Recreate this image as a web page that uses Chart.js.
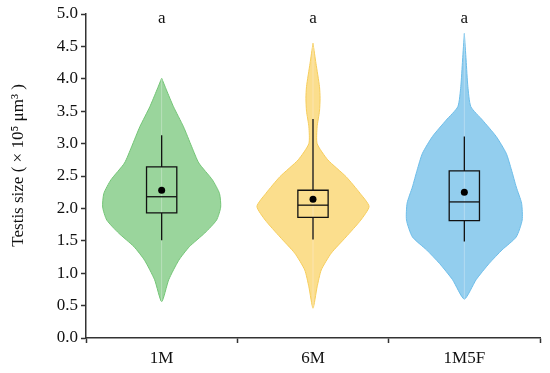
<!DOCTYPE html>
<html>
<head>
<meta charset="utf-8">
<script src="https://cdn.jsdelivr.net/npm/chart.js@4.4.1/dist/chart.umd.min.js"></script>
<style>
  html, body { margin: 0; padding: 0; background: #fff; }
  #wrap { width: 550px; height: 373px; }
</style>
</head>
<body>
<div id="wrap"><canvas id="violinChart"></canvas></div>
<script>
// groups and significance letters
const groups = ['1M', '6M', '1M5F'];
const letters = ['a', 'a', 'a'];

// violin outlines: testis size (x 10^5 um^3) and relative density
const size1M = [4.01, 3.83, 3.57, 3.26, 2.95, 2.70, 2.44, 2.23, 2.02, 1.82, 1.62, 1.41, 1.20, 0.90, 0.56];
const dens1M = [0, 0.08, 0.20, 0.37, 0.51, 0.63, 0.86, 0.98, 1.0, 0.93, 0.73, 0.47, 0.29, 0.12, 0];

const size6M = [4.55, 4.24, 3.88, 3.70, 3.50, 3.26, 3.00, 2.75, 2.49, 2.23, 2.03, 1.82, 1.56, 1.31, 1.05, 0.79, 0.46];
const dens6M = [0, 0.05, 0.11, 0.12, 0.11, 0.07, 0.07, 0.25, 0.56, 0.80, 0.95, 0.81, 0.56, 0.31, 0.14, 0.07, 0];

const size1M5F = [4.70, 4.29, 3.88, 3.57, 3.36, 3.11, 2.85, 2.59, 2.33, 2.08, 1.82, 1.56, 1.36, 1.15, 0.90, 0.60];
const dens1M5F = [0, 0.03, 0.06, 0.11, 0.31, 0.54, 0.71, 0.80, 0.88, 0.97, 0.98, 0.88, 0.64, 0.42, 0.20, 0];

// box plot summaries per group
const whiskerHigh = [3.13, 3.38, 3.11];
const q3 = [2.64, 2.28, 2.58];
const median = [2.18, 2.05, 2.10];
const q1 = [1.93, 1.86, 1.81];
const whiskerLow = [1.51, 1.52, 1.49];
const mean = [2.28, 2.14, 2.25];

const fills = ['rgb(154, 213, 156)', 'rgb(251, 222, 141)', 'rgb(147, 206, 238)'];
const edges = ['#74c577', '#f6cd5c', '#6dbde9'];
const maxHalf = 0.39;   // widest violin half width, in category units
const boxHalf = 0.1;

function violinPoints(i, ys, ds) {
    const right = ys.map((y, k) => ({x: i + ds[k] * maxHalf, y: y}));
    const left = ys.map((y, k) => ({x: i - ds[k] * maxHalf, y: y})).reverse();
    return right.concat(left.slice(1));
}

function boxPath(i) {
    return [
        {x: i, y: whiskerHigh[i]}, {x: i, y: q3[i]},
        {x: i - boxHalf, y: q3[i]}, {x: i - boxHalf, y: q1[i]},
        {x: i, y: q1[i]}, {x: i, y: whiskerLow[i]}, {x: i, y: q1[i]},
        {x: i + boxHalf, y: q1[i]}, {x: i + boxHalf, y: q3[i]}, {x: i, y: q3[i]}
    ];
}

const sizes = [size1M, size6M, size1M5F];
const dens = [dens1M, dens6M, dens1M5F];

const datasets = [];
groups.forEach((g, i) => {
    // mean dot
    datasets.push({
        data: [{x: i, y: mean[i]}],
        pointRadius: 3.5, pointBackgroundColor: '#000', pointBorderWidth: 0,
        showLine: false, order: 0
    });
    // box + whiskers
    datasets.push({
        data: boxPath(i), showLine: true, tension: 0,
        borderColor: '#111', borderWidth: 1.3, pointRadius: 0, fill: false, order: 1
    });
    datasets.push({
        data: [{x: i - boxHalf, y: median[i]}, {x: i + boxHalf, y: median[i]}],
        showLine: true, borderColor: '#111', borderWidth: 1.3, pointRadius: 0, fill: false, order: 1
    });
    // faint centre line
    datasets.push({
        data: [{x: i, y: sizes[i][0]}, {x: i, y: sizes[i][sizes[i].length - 1]}],
        showLine: true, borderColor: 'rgba(255,255,255,0.12)', borderWidth: 1, pointRadius: 0, order: 2
    });
    // violin
    datasets.push({
        data: violinPoints(i, sizes[i], dens[i]),
        showLine: true, tension: 0.2, fill: 'shape',
        backgroundColor: fills[i], borderColor: edges[i], borderWidth: 1,
        pointRadius: 0, order: 3
    });
});

// letters above each violin
const letterPlugin = {
    id: 'letters',
    afterDatasetsDraw(chart) {
        const {ctx, scales} = chart;
        ctx.save();
        ctx.font = '17px "Liberation Serif", serif';
        ctx.fillStyle = '#111';
        ctx.textAlign = 'center';
        ctx.textBaseline = 'alphabetic';
        letters.forEach((t, i) => {
            ctx.fillText(t, scales.x.getPixelForValue(i), scales.y.getPixelForValue(4.86));
        });
        ctx.restore();
    }
};

Chart.defaults.font.family = '"Liberation Serif", "Times New Roman", serif';
Chart.defaults.font.size = 17;
Chart.defaults.color = '#111';

const ctx = document.getElementById('violinChart').getContext('2d');
const violinChart = new Chart(ctx, {
    type: 'scatter',
    data: {datasets: datasets},
    options: {
        responsive: true,
        maintainAspectRatio: false,
        animation: false,
        layout: {padding: {left: 8, right: 10, top: 14, bottom: 0}},
        plugins: {legend: {display: false}, tooltip: {enabled: false}},
        scales: {
            x: {
                type: 'linear', min: -0.5, max: 2.5,
                afterBuildTicks: s => { s.ticks = [-0.5, 0, 0.5, 1, 1.5, 2, 2.5].map(v => ({value: v})); },
                afterFit: s => { s.height = 35; },
                ticks: {
                    autoSkip: false, maxRotation: 0, padding: 5,
                    callback: v => Number.isInteger(v) ? groups[v] : ''
                },
                grid: {
                    drawOnChartArea: false, drawTicks: true, tickLength: 5, tickWidth: 1.5,
                    tickColor: c => (c.tick && Number.isInteger(c.tick.value)) ? 'rgba(0,0,0,0)' : '#333'
                },
                border: {color: '#333', width: 1.5}
            },
            y: {
                min: 0, max: 5,
                afterFit: s => { s.width = 78; },
                ticks: {stepSize: 0.5, padding: 3, callback: v => v.toFixed(1)},
                grid: {drawOnChartArea: false, drawTicks: true, tickLength: 5, tickWidth: 1.5, tickColor: '#333'},
                border: {color: '#333', width: 1.5},
                title: {display: true, text: '     Testis size ( × 10⁵ μm³ )', padding: {top: 0, bottom: 4}}
            }
        }
    },
    plugins: [letterPlugin]
});
</script>
</body>
</html>
